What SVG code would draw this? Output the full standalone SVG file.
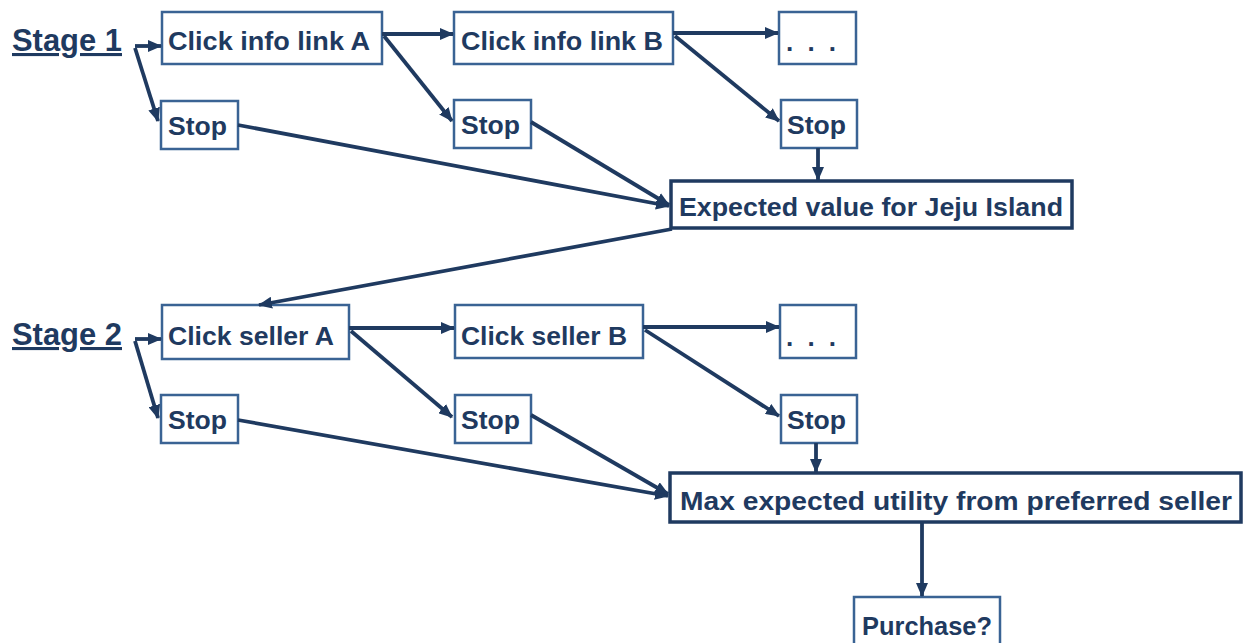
<svg xmlns="http://www.w3.org/2000/svg" width="1243" height="643" viewBox="0 0 1243 643">
<style>
.box{fill:#fff;stroke:#3A6394;stroke-width:2.5}
.bold{fill:#fff;stroke:#1F3A60;stroke-width:3.5}
.t{font-family:"Liberation Sans",Arial,sans-serif;font-weight:bold;font-size:26px;fill:#1F3A60}
.st{font-family:"Liberation Sans",Arial,sans-serif;font-weight:bold;font-size:31px;fill:#1F3A60;text-decoration:underline}
.c{fill:none;stroke:#1F3A60;stroke-width:3.8;marker-end:url(#ah)}
</style>
<defs>
<marker id="ah" markerUnits="userSpaceOnUse" markerWidth="14" markerHeight="12" refX="13" refY="6" orient="auto">
<path d="M0,0 L14,6 L0,12 z" fill="#1F3A60"/>
</marker>
</defs>
<g id="stage1"><text class="st" x="12" y="51" textLength="110" lengthAdjust="spacingAndGlyphs">Stage 1</text></g>
<g id="stage2"><text class="st" x="12" y="345" textLength="110" lengthAdjust="spacingAndGlyphs">Stage 2</text></g>
<g id="clickA"><rect class="box" x="162" y="12" width="220" height="52"/><text class="t" x="168" y="50" textLength="202" lengthAdjust="spacingAndGlyphs">Click info link A</text></g>
<g id="clickB"><rect class="box" x="454" y="12" width="219" height="52"/><text class="t" x="461" y="50" textLength="202" lengthAdjust="spacingAndGlyphs">Click info link B</text></g>
<g id="dots1"><rect class="box" x="779" y="12" width="77" height="52"/><text class="t" x="786" y="51" textLength="50" lengthAdjust="spacing">. . .</text></g>
<g id="stop1"><rect class="box" x="161" y="101" width="77" height="48"/><text class="t" x="168" y="135" textLength="59" lengthAdjust="spacingAndGlyphs">Stop</text></g>
<g id="stop2"><rect class="box" x="454" y="100" width="77" height="48"/><text class="t" x="461" y="134" textLength="59" lengthAdjust="spacingAndGlyphs">Stop</text></g>
<g id="stop3"><rect class="box" x="781" y="100" width="76" height="48"/><text class="t" x="787" y="134" textLength="59" lengthAdjust="spacingAndGlyphs">Stop</text></g>
<g id="expected"><rect class="bold" x="671" y="181" width="401" height="47"/><text class="t" x="679" y="216" textLength="384" lengthAdjust="spacingAndGlyphs">Expected value for Jeju Island</text></g>
<g id="sellerA"><rect class="box" x="162" y="305" width="187" height="54"/><text class="t" x="168" y="345" textLength="166" lengthAdjust="spacingAndGlyphs">Click seller A</text></g>
<g id="sellerB"><rect class="box" x="455" y="305" width="188" height="53"/><text class="t" x="461" y="345" textLength="166" lengthAdjust="spacingAndGlyphs">Click seller B</text></g>
<g id="dots2"><rect class="box" x="780" y="305" width="76" height="53"/><text class="t" x="786" y="346" textLength="50" lengthAdjust="spacing">. . .</text></g>
<g id="stop4"><rect class="box" x="161" y="395" width="77" height="48"/><text class="t" x="168" y="429" textLength="59" lengthAdjust="spacingAndGlyphs">Stop</text></g>
<g id="stop5"><rect class="box" x="455" y="395" width="76" height="48"/><text class="t" x="461" y="429" textLength="59" lengthAdjust="spacingAndGlyphs">Stop</text></g>
<g id="stop6"><rect class="box" x="781" y="395" width="76" height="48"/><text class="t" x="787" y="429" textLength="59" lengthAdjust="spacingAndGlyphs">Stop</text></g>
<g id="maxutil"><rect class="bold" x="670" y="473" width="571" height="49"/><text class="t" x="680" y="510" textLength="552" lengthAdjust="spacingAndGlyphs">Max expected utility from preferred seller</text></g>
<g id="purchase"><rect class="box" x="854" y="597" width="146" height="50"/><text class="t" x="862" y="635" textLength="130" lengthAdjust="spacingAndGlyphs">Purchase?</text></g>
<g id="connectors">
<path class="c" d="M135,46 L161,46"/>
<path class="c" d="M135,48 L158,121"/>
<path class="c" d="M382,34 L453,34"/>
<path class="c" d="M384,36 L452,121"/>
<path class="c" d="M673,33 L778,33"/>
<path class="c" d="M675,36 L779,121"/>
<path class="c" d="M238,125 L669,206"/>
<path class="c" d="M531,122 L669,205"/>
<path class="c" d="M818,148 L818,180"/>
<path class="c" d="M672,229 L259,305"/>
<path class="c" d="M135,339 L161,339"/>
<path class="c" d="M135,341 L158,418"/>
<path class="c" d="M349,328 L454,328"/>
<path class="c" d="M351,331 L452,417"/>
<path class="c" d="M643,327 L779,327"/>
<path class="c" d="M645,330 L779,416"/>
<path class="c" d="M238,420 L668,496"/>
<path class="c" d="M531,415 L668,494"/>
<path class="c" d="M816,443 L816,472"/>
<path class="c" d="M922,522 L922,596"/>
</g>
</svg>
